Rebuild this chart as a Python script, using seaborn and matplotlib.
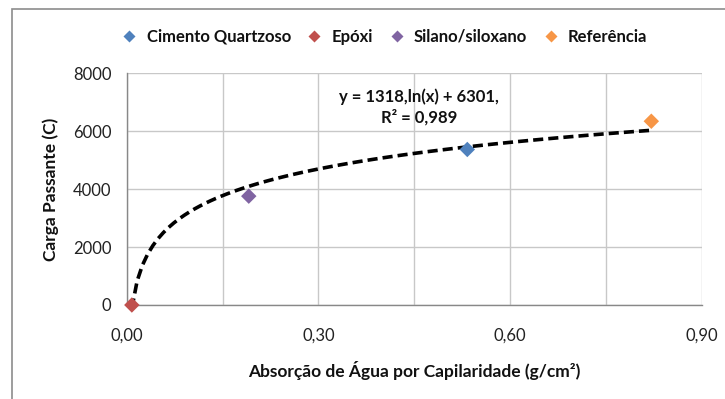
import matplotlib
matplotlib.use("Agg")
import matplotlib.pyplot as plt
import seaborn as sns
import pandas as pd
from matplotlib.patches import Rectangle
from matplotlib.lines import Line2D

# ---- data ----
series = ["Cimento Quartzoso", "Epóxi", "Silano/siloxano", "Referência"]
absorcao = [0.533, 0.008, 0.191, 0.821]      # g/cm²
carga = [5370, 0, 3758, 6345]                # C
colors = ["#4F81BD", "#C0504D", "#8064A2", "#F79646"]
equation_text = "y = 1318,ln(x) + 6301,\nR² = 0,989"
x_ticks = [0.0, 0.30, 0.60, 0.90]
x_tick_labels = ["0,00", "0,30", "0,60", "0,90"]
x_minor = [0.15, 0.45, 0.75]
y_ticks = [0, 2000, 4000, 6000, 8000]
y_tick_labels = ["0", "2000", "4000", "6000", "8000"]
x_label = "Absorção de Água por Capilaridade (g/cm²)"
y_label = "Carga Passante (C)"

df = pd.DataFrame({"serie": series, "x": absorcao, "y": carga})

sns.set_theme(style="white")
plt.rcParams["font.family"] = ["Lato", "DejaVu Sans"]

fig = plt.figure(figsize=(7.25, 3.99), dpi=100)
ax = fig.add_axes([0.1748, 0.2356, 0.968 - 0.1748, 0.8163 - 0.2356])

# outer chart border
fig.patches.append(Rectangle((12 / 725, -0.1), 1.2, 1.1 - 9 / 399,
                             transform=fig.transFigure, fill=False,
                             edgecolor="#8C8C8C", linewidth=1.2, zorder=0))

# trendline (log fit)
sns.regplot(data=df, x="x", y="y", logx=True, ci=None, scatter=False, ax=ax,
            line_kws=dict(color="black", linewidth=2.6,
                          linestyle=(0, (2.8, 1.4)), zorder=3))

sns.scatterplot(data=df, x="x", y="y", hue="serie", palette=colors,
                hue_order=series, marker="D", s=62, edgecolor="none",
                ax=ax, legend=False, zorder=4, clip_on=False)

ax.set_xlim(0, 0.9)
ax.set_ylim(0, 8000)
ax.set_xticks(x_ticks)
ax.set_xticklabels(x_tick_labels)
ax.set_xticks(x_minor, minor=True)
ax.set_yticks(y_ticks)
ax.set_yticklabels(y_tick_labels)

ax.grid(True, which="both", color="#C8C8C8", linewidth=1.0)
ax.set_axisbelow(True)
for side in ["top", "right"]:
    ax.spines[side].set_visible(False)
for side in ["left", "bottom"]:
    ax.spines[side].set_color("#888888")
    ax.spines[side].set_linewidth(1.0)

ax.tick_params(axis="both", which="major", direction="out", length=5,
               color="#888888", width=1.0, labelsize=12, labelcolor="#222222")
ax.tick_params(axis="x", which="major", pad=11)
ax.tick_params(axis="y", which="major", pad=6)
ax.tick_params(axis="x", which="minor", length=0)

ax.set_xlabel(x_label, fontsize=12.5, fontweight="bold", labelpad=13, color="#111111")
ax.set_ylabel(y_label, fontsize=12.5, fontweight="bold", labelpad=10, color="#111111")

ax.text(0.457, 6830, equation_text, ha="center", va="center",
        fontsize=12, fontweight="bold", color="#111111", linespacing=1.3)

handles = [Line2D([0], [0], marker="D", linestyle="none", markersize=6,
                  markerfacecolor=c, markeredgecolor="none") for c in colors]
fig.legend(handles, series, loc="center", bbox_to_anchor=(380 / 725, 1 - 37 / 399),
           ncol=4, frameon=False, handletextpad=0.05, columnspacing=0.4,
           prop=dict(size=12, weight="bold"), labelcolor="#111111")

fig.savefig("out.png", dpi=100)
